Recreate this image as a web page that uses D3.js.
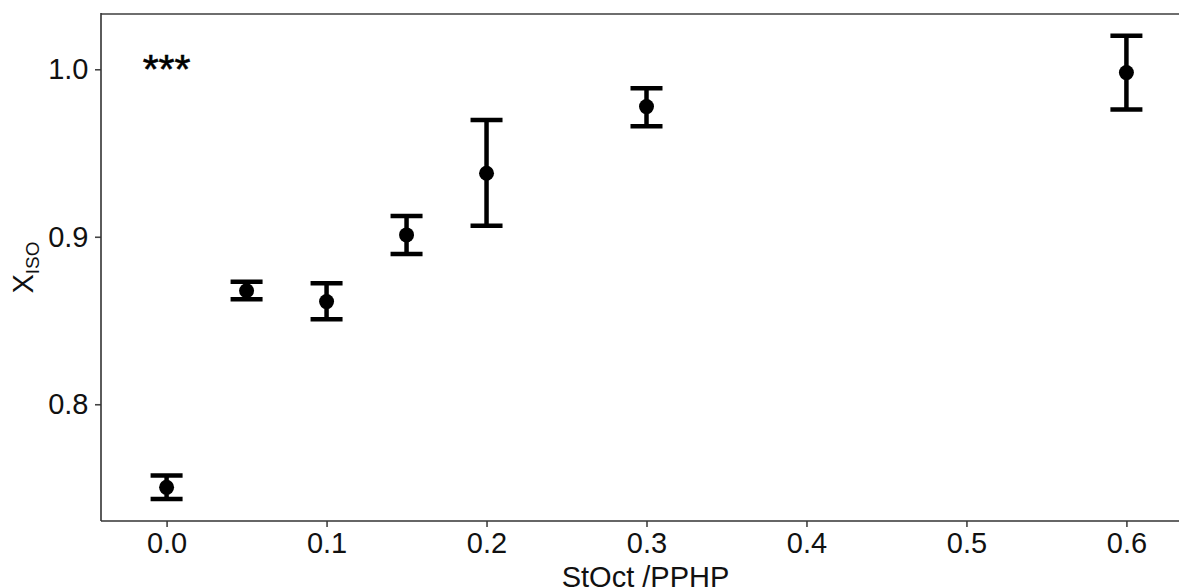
<!DOCTYPE html>
<html>
<head>
<meta charset="utf-8">
<script src="https://cdn.jsdelivr.net/npm/d3@7"></script>
<style>
  html, body { margin: 0; padding: 0; background: #fff; }
  svg { display: block; font-family: "Liberation Sans", Arial, sans-serif; }
</style>
</head>
<body>
<svg id="chart" width="1179" height="588"></svg>
<script>
// StOct/PPHP ratio and mean isotactic fraction with lower/upper error limits
const ratios = [0.0, 0.05, 0.1, 0.15, 0.2, 0.3, 0.6];
const xisoMean = [0.7504, 0.8678, 0.8613, 0.9011, 0.9379, 0.9777, 0.998];
const xisoLow  = [0.7435, 0.8627, 0.8507, 0.8897, 0.9066, 0.9660, 0.976];
const xisoHigh = [0.7574, 0.8732, 0.8722, 0.9124, 0.9697, 0.9887, 1.020];
const xTicks = [0.0, 0.1, 0.2, 0.3, 0.4, 0.5, 0.6];
const yTicks = [0.8, 0.9, 1.0];
const annotation = "***";

const W = 1179, H = 588;
const panel = { left: 101, top: 14, bottom: 521, right: 1192 };

const x = d3.scaleLinear().domain([-0.041, 0.641]).range([panel.left, panel.right]);
const y = d3.scaleLinear().domain([0.7303, 1.0330]).range([panel.bottom, panel.top]);

const svg = d3.select("#chart");
const capHalf = 0.01; // half width of error bar caps in data units

const rows = ratios.map((r, i) => ({ r, m: xisoMean[i], lo: xisoLow[i], hi: xisoHigh[i] }));

// top border of the panel
svg.append("line")
  .attr("x1", panel.left).attr("x2", W)
  .attr("y1", panel.top).attr("y2", panel.top)
  .attr("stroke", "#6e6e6e").attr("stroke-width", 2);

// axes
const xAxis = d3.axisBottom(x).tickValues(xTicks).tickFormat(d3.format(".1f")).tickSize(6).tickPadding(5);
const yAxis = d3.axisLeft(y).tickValues(yTicks).tickFormat(d3.format(".1f")).tickSize(6).tickPadding(6.5);

const gx = svg.append("g").attr("transform", `translate(0,${panel.bottom})`).call(xAxis);
const gy = svg.append("g").attr("transform", `translate(${panel.left},0)`).call(yAxis);

[gx, gy].forEach(g => {
  g.select(".domain").remove();
  g.selectAll(".tick line").attr("stroke", "#444").attr("stroke-width", 1.6);
  g.selectAll(".tick text").attr("fill", "#111").attr("font-size", 29)
    .attr("font-family", "'Liberation Sans', Arial, sans-serif");
});

// axis lines
svg.append("line")
  .attr("x1", panel.left).attr("x2", panel.left)
  .attr("y1", panel.top - 1).attr("y2", panel.bottom)
  .attr("stroke", "#333").attr("stroke-width", 1.6);
svg.append("line")
  .attr("x1", panel.left).attr("x2", W)
  .attr("y1", panel.bottom).attr("y2", panel.bottom)
  .attr("stroke", "#333").attr("stroke-width", 1.6);

// error bars
const eb = svg.append("g").attr("stroke", "#000").attr("stroke-width", 4.5).attr("fill", "none");
eb.selectAll("line.stem").data(rows).join("line").attr("class", "stem")
  .attr("x1", d => x(d.r)).attr("x2", d => x(d.r))
  .attr("y1", d => y(d.lo)).attr("y2", d => y(d.hi));
eb.selectAll("line.capHi").data(rows).join("line").attr("class", "capHi")
  .attr("x1", d => x(d.r - capHalf)).attr("x2", d => x(d.r + capHalf))
  .attr("y1", d => y(d.hi)).attr("y2", d => y(d.hi));
eb.selectAll("line.capLo").data(rows).join("line").attr("class", "capLo")
  .attr("x1", d => x(d.r - capHalf)).attr("x2", d => x(d.r + capHalf))
  .attr("y1", d => y(d.lo)).attr("y2", d => y(d.lo));

// mean points
svg.append("g").selectAll("circle").data(rows).join("circle")
  .attr("cx", d => x(d.r)).attr("cy", d => y(d.m)).attr("r", 7.5).attr("fill", "#000");

// significance marker
svg.append("text")
  .attr("x", x(0)).attr("y", 83)
  .attr("text-anchor", "middle")
  .attr("font-size", 41).attr("fill", "#000")
  .attr("stroke", "#000").attr("stroke-width", 0.6)
  .text(annotation);

// axis titles
svg.append("text")
  .attr("x", 645.5).attr("y", 587)
  .attr("text-anchor", "middle").attr("font-size", 29).attr("fill", "#111")
  .text("StOct /PPHP");

const yt = svg.append("text")
  .attr("transform", `translate(33,${(panel.top + panel.bottom) / 2}) rotate(-90)`)
  .attr("text-anchor", "middle").attr("font-size", 29).attr("fill", "#111");
yt.append("tspan").text("X");
yt.append("tspan").attr("font-size", 19).attr("dy", 6).text("ISO");
</script>
</body>
</html>
